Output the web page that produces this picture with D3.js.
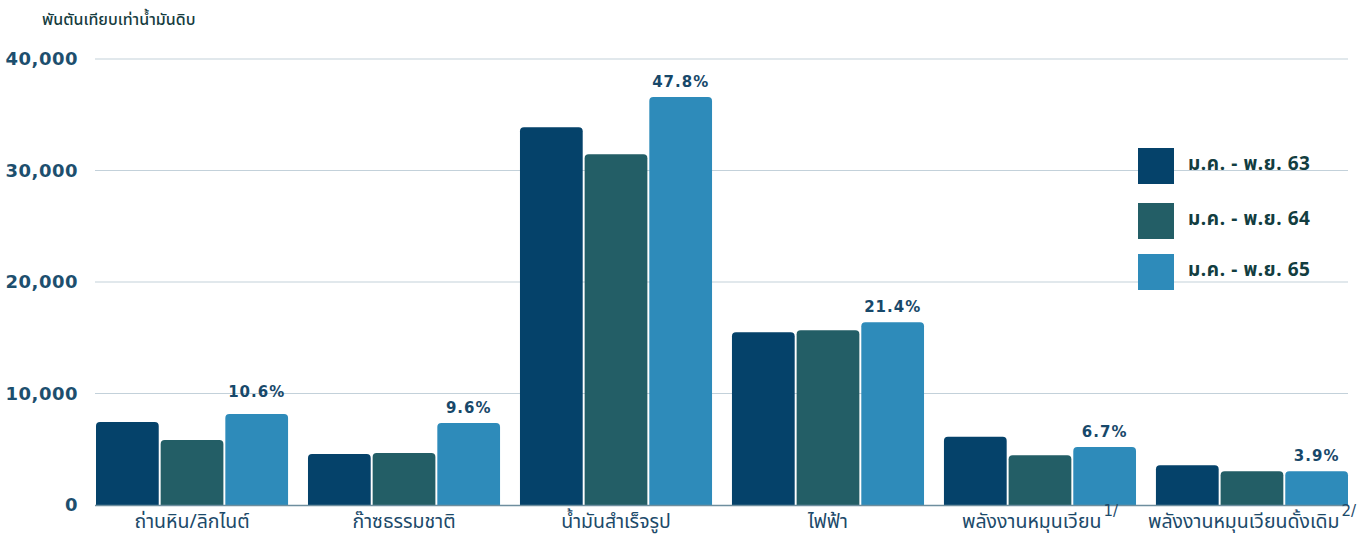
<!DOCTYPE html>
<html><head><meta charset="utf-8">
<script src="https://cdn.jsdelivr.net/npm/d3@7/dist/d3.min.js"></script>
<style>
html,body{margin:0;padding:0;background:#fff;}
svg{display:block;font-family:"Noto Sans","Noto Sans Thai","Loma","Garuda",sans-serif;}
</style></head>
<body>
<svg id="chart" width="1369" height="536"></svg>
<script>
const categories = ["ถ่านหิน/ลิกไนต์","ก๊าซธรรมชาติ","น้ำมันสำเร็จรูป","ไฟฟ้า","พลังงานหมุนเวียน","พลังงานหมุนเวียนดั้งเดิม"];
const superscripts = ["","","","","1/","2/"];
const seriesNames = ["ม.ค. - พ.ย. 63","ม.ค. - พ.ย. 64","ม.ค. - พ.ย. 65"];
const values63 = [7444, 4574, 33874, 15489, 6126, 3561];
const values64 = [5830, 4664, 31453, 15668, 4457, 3022];
const values65 = [8160, 7354, 36592, 16386, 5202, 3022];
const shares65 = ["10.6%","9.6%","47.8%","21.4%","6.7%","3.9%"];
const yTicks = [0, 10000, 20000, 30000, 40000];
const unitLabel = "พันตันเทียบเท่าน้ำมันดิบ";
const colors = ["#05426a","#235e66","#2e8bba"];

(function(){
const series = [values63, values64, values65];
const svg = d3.select("#chart");
const mLeft = 95, mRight = 1348, mTop = 59, mBottom = 505;

const x = d3.scaleBand().domain(categories).range([96, 1348]).paddingInner(0.094).paddingOuter(0);
const xs = d3.scaleBand().domain([0,1,2]).range([0, x.bandwidth()]).paddingInner(0.03);
const y = d3.scaleLinear().domain([0, 40000]).range([mBottom, mTop]);

// gridlines
svg.append("g").selectAll("line").data(yTicks.filter(d=>d>0)).join("line")
  .attr("x1", mLeft).attr("x2", mRight)
  .attr("y1", d=>y(d)).attr("y2", d=>y(d))
  .attr("stroke", "#c3d1da").attr("stroke-width", 1.2);

// y axis labels
const yAxis = d3.axisLeft(y).tickValues(yTicks).tickSize(0).tickPadding(0)
  .tickFormat(d3.format(","));
const ga = svg.append("g").attr("transform", "translate(78,0)").call(yAxis);
ga.select(".domain").remove();
ga.selectAll("text").attr("font-size", 18).attr("font-weight", "bold")
  .attr("fill", "#1d4f6e").attr("font-family", "DejaVu Sans, sans-serif").attr("letter-spacing", 0.5);

// unit label
svg.append("text").attr("x", 42).attr("y", 25).text(unitLabel)
  .attr("font-size", 16).attr("fill", "#163c40").attr("font-weight", 500);

// bars
function topRounded(x0, y0, w, h, r) {
  r = Math.min(r, h, w/2);
  return `M${x0},${y0+h}V${y0+r}Q${x0},${y0} ${x0+r},${y0}H${x0+w-r}Q${x0+w},${y0} ${x0+w},${y0+r}V${y0+h}Z`;
}
series.forEach((vals, si) => {
  svg.append("g").selectAll("path").data(vals).join("path")
    .attr("d", (d,i) => topRounded(x(categories[i]) + xs(si), y(d), xs.bandwidth(), y(0) - y(d), 4))
    .attr("fill", colors[si]);
});

// baseline
svg.append("line").attr("x1", mLeft).attr("x2", mRight).attr("y1", mBottom+0.5).attr("y2", mBottom+0.5)
  .attr("stroke", "#6e8e9e").attr("stroke-width", 1.5);

// share labels
svg.append("g").selectAll("text").data(shares65).join("text")
  .attr("x", (d,i) => x(categories[i]) + xs(2) + xs.bandwidth()/2)
  .attr("y", (d,i) => y(values65[i]) - (i === 0 ? 17 : 10))
  .attr("text-anchor", "middle").attr("font-size", 15).attr("font-weight", "bold")
  .attr("fill", "#17486a").attr("font-family", "DejaVu Sans, sans-serif").attr("letter-spacing", 1)
  .text(d=>d);

// x labels (label + superscript centred together under the group)
const xl = svg.append("g").selectAll("g").data(categories).join("g")
  .attr("transform", d => `translate(${x(d) + x.bandwidth()/2},528)`);
xl.append("text").attr("text-anchor", "middle").attr("font-size", 19.5)
  .attr("fill", "#1c4a6a").text(d=>d);
xl.each(function(d,i){
  if (!superscripts[i]) return;
  const g = d3.select(this);
  const main = g.select("text");
  const w = main.node().getComputedTextLength();
  const sup = g.append("text").attr("y", -12)
    .attr("font-size", 15).attr("fill", "#1c4a6a").attr("font-family","DejaVu Sans, sans-serif").text(superscripts[i]);
  const sw = sup.node().getComputedTextLength() + 2;
  main.attr("x", -sw/2);
  sup.attr("x", w/2 - sw/2 + 2);
});

// legend
const lg = svg.append("g").selectAll("g").data(seriesNames).join("g")
  .attr("transform", (d,i) => `translate(1138,${[148,203,254][i]})`);
lg.append("rect").attr("width", 36).attr("height", 36).attr("fill", (d,i)=>colors[i]);
lg.append("text").attr("x", 50).attr("y", 22).attr("font-size", 19).attr("font-weight", "bold")
  .attr("letter-spacing", 0.6).attr("fill", "#123d40").text(d=>d);
})();
</script>
</body></html>
